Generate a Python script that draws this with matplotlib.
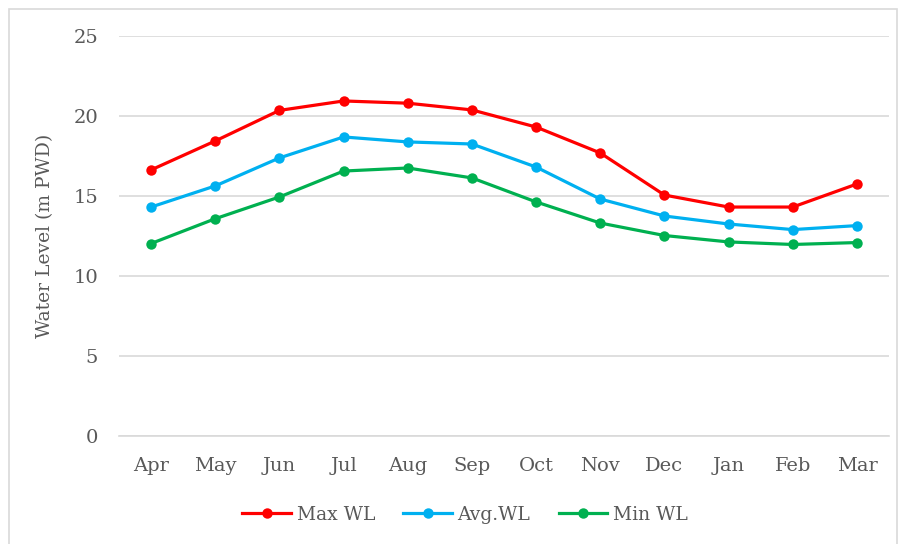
import matplotlib.pyplot as plt
from matplotlib.lines import Line2D

months = ['Apr', 'May', 'Jun', 'Jul', 'Aug', 'Sep', 'Oct', 'Nov', 'Dec', 'Jan', 'Feb', 'Mar']
max_wl = [16.63, 18.44, 20.35, 20.94, 20.80, 20.38, 19.31, 17.69, 15.06, 14.31, 14.31, 15.75]
avg_wl = [14.31, 15.63, 17.38, 18.69, 18.38, 18.25, 16.81, 14.81, 13.75, 13.25, 12.90, 13.15]
min_wl = [12.03, 13.58, 14.94, 16.56, 16.75, 16.13, 14.63, 13.31, 12.53, 12.13, 11.97, 12.09]

yticks = [0, 5, 10, 15, 20, 25]
text_color = '#595959'
grid_color = '#D9D9D9'

plt.rcParams['font.family'] = ['DejaVu Serif']

fig = plt.figure(figsize=(9, 5.44), dpi=100)
ax = fig.add_axes([119 / 900, 1 - 436 / 544, 770 / 900, 400 / 544])

x = list(range(len(months)))
series = [
    (max_wl, '#FF0000', 'Max WL'),
    (avg_wl, '#00B0F0', 'Avg.WL'),
    (min_wl, '#00B050', 'Min WL'),
]
for vals, col, lab in series:
    ax.plot(x, vals, color=col, lw=2.3, marker='o', markersize=7.5,
            markeredgewidth=0, label=lab, zorder=3, solid_joinstyle='round')

ax.set_xlim(-0.5, len(months) - 0.5)
ax.set_ylim(0, 25)
ax.set_yticks(yticks)
ax.set_xticks(x)
ax.set_xticklabels(months)
ax.yaxis.grid(True, color=grid_color, lw=1.2)
ax.set_axisbelow(True)
for s in ['top', 'right', 'left']:
    ax.spines[s].set_visible(False)
ax.spines['bottom'].set_color(grid_color)
ax.spines['bottom'].set_linewidth(1.2)
ax.tick_params(axis='both', length=0, labelsize=14, colors=text_color)
ax.tick_params(axis='y', pad=15)
ax.tick_params(axis='x', pad=15)
ax.set_ylabel('Water Level (m PWD)', fontsize=13.5, color=text_color, labelpad=14)

handles = [Line2D([0], [0], color=c, lw=2.3, marker='o', markersize=7.5,
                  markeredgewidth=0) for _, c, _ in series]
fig.legend(handles, [l for _, _, l in series], loc='center',
           bbox_to_anchor=(465 / 900, 1 - 515 / 544), ncol=3, frameon=False,
           fontsize=13.5, labelcolor=text_color, handlelength=2.6,
           columnspacing=1.5, handletextpad=0.3)

# light border around the chart area
fig.add_artist(plt.Rectangle((9 / 900, -0.05), 888 / 900, 1.05 - 9 / 544,
                             transform=fig.transFigure, fill=False,
                             edgecolor=grid_color, lw=1.2))

fig.savefig('out.png', dpi=100)
